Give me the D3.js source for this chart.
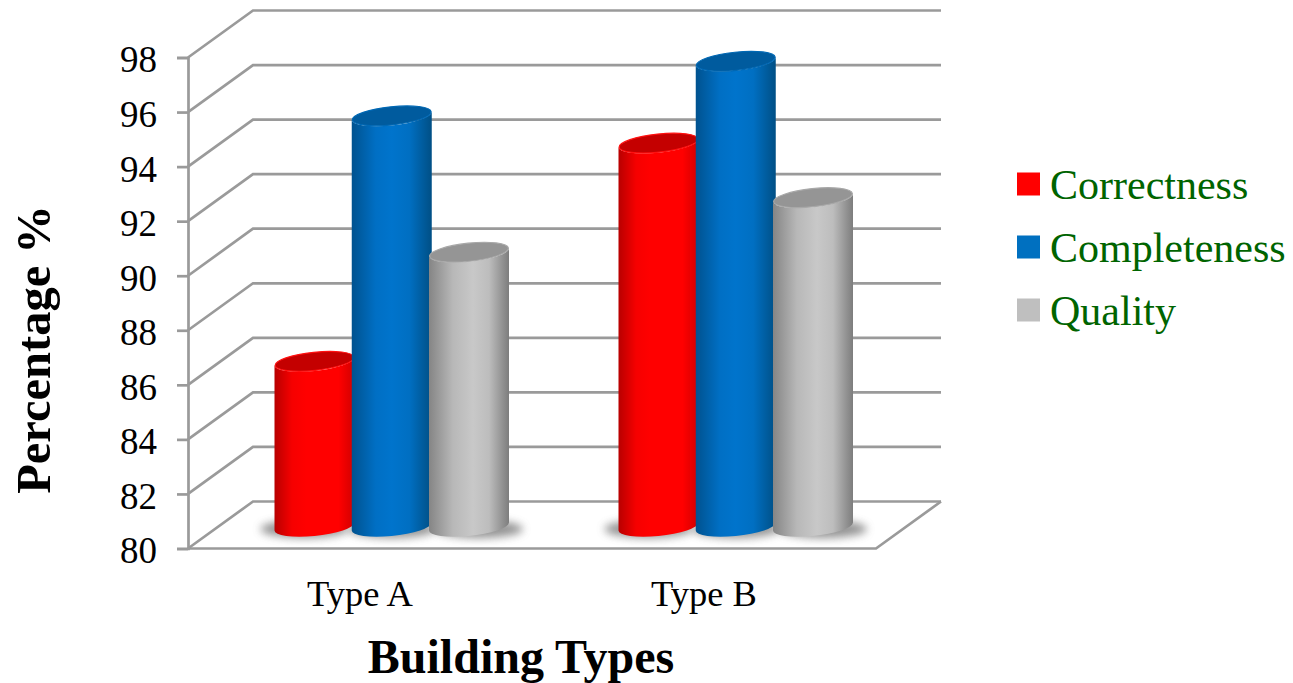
<!DOCTYPE html>
<html>
<head>
<meta charset="utf-8">
<script src="https://cdn.jsdelivr.net/npm/d3@7"></script>
<style>
html,body{margin:0;padding:0;background:#fff}
svg{display:block}
text{font-family:"Liberation Serif","Times New Roman",serif;fill:#000}
</style>
</head>
<body>
<svg id="chart" width="1293" height="683"></svg>
<script>
// Chart values
const categories = ["Type A", "Type B"];
const seriesNames = ["Correctness", "Completeness", "Quality"];
const correctness = [86, 94];
const completeness = [95, 97];
const quality = [90, 92];
const yTicks = [80, 82, 84, 86, 88, 90, 92, 94, 96, 98];
const seriesValues = [correctness, completeness, quality];

// Styling per series: side shading stops and the darker cap colour
const sideStops = [
  [["0%", "#b80000"], ["22%", "#f60000"], ["40%", "#ff0000"], ["80%", "#ff0000"], ["100%", "#d00000"]],
  [["0%", "#00528f"], ["30%", "#006fc4"], ["50%", "#0074cc"], ["72%", "#006fc2"], ["100%", "#004f85"]],
  [["0%", "#858585"], ["30%", "#b8b8b8"], ["55%", "#c8c8c8"], ["75%", "#bdbdbd"], ["100%", "#7d7d7d"]]
];
const capFill = ["#c40000", "#005b9e", "#959595"];
const capRim = ["#ff1010", "#0068b4", "#a8a8a8"];
const swatchFill = ["#ff0000", "#0070c0", "#bfbfbf"];

// 3D frame: the plot floor is skewed back by a fixed depth offset
const frontLeft = 188, frontRight = 876, depthX = 65, depthY = -47;
const y = d3.scaleLinear().domain([80, 98]).range([548.5, 57.5]);
const xFront = d3.scaleBand().domain(categories).range([frontLeft, frontRight]);
const xMid = d3.scaleBand().domain(categories).range([frontLeft + depthX / 2 - 0.5, frontRight + depthX / 2 - 0.5]);
const xSeries = d3.scalePoint().domain(seriesNames).range([-77.5, 77]);

const svg = d3.select("#chart");
const defs = svg.append("defs");
sideStops.forEach((stops, i) => {
  const g = defs.append("linearGradient").attr("id", "side" + i)
    .attr("x1", "0%").attr("x2", "100%").attr("y1", "0%").attr("y2", "0%");
  stops.forEach(s => g.append("stop").attr("offset", s[0]).attr("stop-color", s[1]));
});
defs.append("filter").attr("id", "soft").attr("x", "-30%").attr("y", "-100%").attr("width", "160%").attr("height", "300%")
  .append("feGaussianBlur").attr("stdDeviation", 4.5);

// Grid lines across the side wall and the back wall
const gridColor = "#9a9a9a";
const grid = svg.append("g").attr("fill", "none").attr("stroke", gridColor).attr("stroke-width", 2.7);
yTicks.forEach(t => {
  const p = d3.path();
  p.moveTo(frontLeft, y(t));
  p.lineTo(frontLeft + depthX, y(t) + depthY);
  p.lineTo(frontRight + depthX, y(t) + depthY);
  grid.append("path").attr("d", p.toString());
});

// Floor edges, value axis and its tick marks
const floor = d3.path();
floor.moveTo(frontLeft, y(80));
floor.lineTo(frontRight, y(80));
floor.lineTo(frontRight + depthX, y(80) + depthY);
grid.append("path").attr("d", floor.toString());
const yAxis = d3.axisLeft(y).tickValues(yTicks).tickSize(11).tickPadding(20);
const axisG = svg.append("g").attr("transform", `translate(${frontLeft},0)`).call(yAxis);
axisG.select(".domain").attr("stroke", gridColor).attr("stroke-width", 2.7);
axisG.selectAll(".tick line").attr("stroke", gridColor).attr("stroke-width", 2.7);
axisG.selectAll(".tick text")
  .attr("font-size", 37).attr("dy", "0.39em")
  .style("font-family", '"Liberation Serif",serif').attr("fill", "#000");

// Cylinders: a tilted elliptical cap over a shaded body
const halfW = 40, ry = 9.5, tilt = -6;
const rad = tilt * Math.PI / 180;
const rx = Math.sqrt(halfW * halfW - Math.pow(ry * Math.sin(rad), 2)) / Math.cos(rad);
const t0 = Math.atan2(-ry * Math.sin(rad), rx * Math.cos(rad));
const edge = {
  dx: rx * Math.cos(t0) * Math.cos(rad) - ry * Math.sin(t0) * Math.sin(rad),
  dy: rx * Math.cos(t0) * Math.sin(rad) + ry * Math.sin(t0) * Math.cos(rad)
};
const midY = v => y(v) + depthY / 2;
const baseDrop = 1.5;

function bodyPath(cx, topY, baseY) {
  return `M${cx - edge.dx},${topY - edge.dy}` +
    `L${cx - edge.dx},${baseY - edge.dy}` +
    `A${rx},${ry} ${tilt} 0 0 ${cx + edge.dx},${baseY + edge.dy}` +
    `L${cx + edge.dx},${topY + edge.dy}` +
    `A${rx},${ry} ${tilt} 0 1 ${cx - edge.dx},${topY - edge.dy}Z`;
}

const barsData = [];
categories.forEach((c, ci) => {
  seriesNames.forEach((s, si) => {
    barsData.push({ cx: xMid(c) + xMid.bandwidth() / 2 + xSeries(s), value: seriesValues[si][ci], si });
  });
});

const shadows = svg.append("g");
shadows.selectAll("ellipse").data(barsData).join("ellipse")
  .attr("cx", d => d.cx + (d.si === 2 ? 10 : d.si === 0 ? -10 : 0))
  .attr("cy", midY(80) + 4)
  .attr("rx", 44).attr("ry", 9)
  .attr("fill", "#666").attr("opacity", 0.7)
  .attr("filter", "url(#soft)");

const bars = svg.append("g").selectAll("g").data(barsData).join("g");
bars.append("path")
  .attr("d", d => bodyPath(d.cx, midY(d.value), midY(80) + baseDrop))
  .attr("fill", d => `url(#side${d.si})`);
bars.append("ellipse")
  .attr("transform", d => `translate(${d.cx},${midY(d.value)}) rotate(${tilt})`)
  .attr("rx", rx - 0.6).attr("ry", ry - 0.4)
  .attr("fill", d => capFill[d.si])
  .attr("stroke", d => capRim[d.si]).attr("stroke-width", 1.2);

// Category labels and axis titles
svg.append("g").selectAll("text").data(categories).join("text")
  .attr("x", c => xFront(c) + xFront.bandwidth() / 2)
  .attr("y", 606)
  .attr("text-anchor", "middle").attr("font-size", 36.5)
  .text(c => c);

svg.append("text").attr("x", 521).attr("y", 673)
  .attr("text-anchor", "middle").attr("font-size", 48).attr("font-weight", "bold")
  .text("Building Types");

svg.append("text").attr("transform", "translate(50,349.5) rotate(-90)")
  .attr("text-anchor", "middle").attr("font-size", 48.5).attr("font-weight", "bold")
  .text("Percentage %");

// Legend
const legendY = d3.scalePoint().domain(seriesNames).range([184, 310]);
const legend = svg.append("g").selectAll("g").data(seriesNames).join("g")
  .attr("transform", s => `translate(1017,${legendY(s)})`);
legend.append("rect").attr("x", 0).attr("y", -11.5).attr("width", 23).attr("height", 23)
  .attr("fill", (s, i) => swatchFill[i]);
legend.append("text").attr("x", 33).attr("y", 15)
  .attr("font-size", 42).style("fill", "#006400")
  .text(s => s);
</script>
</body>
</html>
